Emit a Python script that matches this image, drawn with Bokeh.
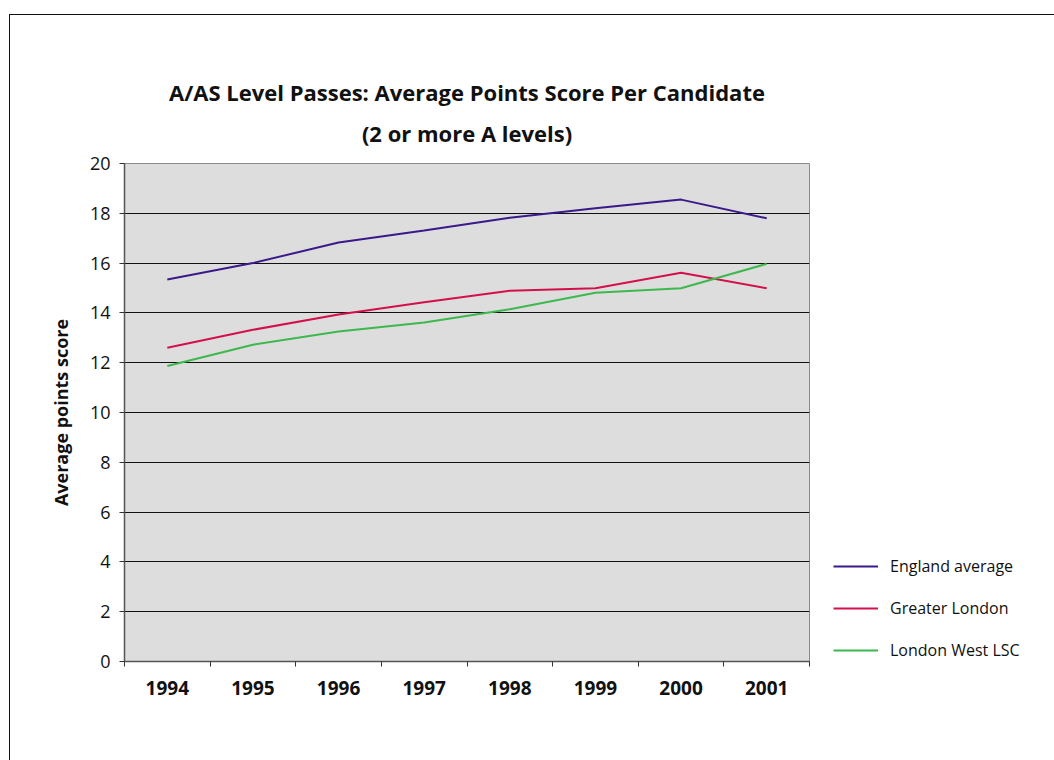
from bokeh.plotting import figure
from bokeh.layouts import row
from bokeh.models import (Range1d, FixedTicker, Title, Legend, LegendItem, ColumnDataSource)
from bokeh.embed import file_html
from bokeh.resources import INLINE
import numpy as np

# Average A/AS level points score per candidate (2 or more A levels)
years = ["1994", "1995", "1996", "1997", "1998", "1999", "2000", "2001"]
england_average = [15.34, 16.00, 16.83, 17.31, 17.82, 18.20, 18.55, 17.80]
greater_london = [12.60, 13.32, 13.94, 14.43, 14.89, 14.99, 15.61, 14.99]
london_west_lsc = [11.87, 12.72, 13.25, 13.61, 14.15, 14.81, 14.99, 15.97]
y_ticks = [0, 2, 4, 6, 8, 10, 12, 14, 16, 18, 20]

series_names = ["England average", "Greater London", "London West LSC"]
series_values = [england_average, greater_london, london_west_lsc]
series_colors = ["#3a1a8a", "#d3104c", "#3db84e"]

FONT = "Open Sans"
INK = "#111111"

# each year sits in the middle of its own slot
x_pos = np.arange(len(years)) + 0.5

p = figure(
    width=809, height=745, title=None,
    x_range=Range1d(0, len(years)), y_range=Range1d(0, 20),
    output_backend="svg", toolbar_location=None,
    min_border_left=114, min_border_right=10,
    min_border_top=148, min_border_bottom=99,
    background_fill_color="#dddddd", border_fill_color="white",
    outline_line_color="#8a8a8a", outline_line_width=1,
)

# two-line chart title (first added sits nearest the frame)
title_lines = ["A/AS Level Passes: Average Points Score Per Candidate", "(2 or more A levels)"]
for txt, gap in zip(reversed(title_lines), [31, -12]):
    t = Title(
        text=txt, align="center",
        text_font=FONT, text_font_style="bold", text_line_height=1.0,
        text_font_size="22px", text_color=INK,
    )
    try:
        t.standoff = gap
    except ValueError:
        t.standoff = 0
    p.add_layout(t, "above")

# x axis: labels in the slot centres, tick marks on the slot edges
p.xaxis.ticker = FixedTicker(ticks=list(x_pos), minor_ticks=list(range(len(years) + 1)))
p.xaxis.major_label_overrides = {float(x): y for x, y in zip(x_pos, years)}
p.xaxis.major_tick_out = 0
p.xaxis.major_tick_in = 0
p.xaxis.minor_tick_out = 5
p.xaxis.minor_tick_in = 0
p.xaxis.minor_tick_line_color = "#333333"
p.xaxis.axis_line_color = "#555555"
p.xaxis.axis_line_width = 1.5
p.xaxis.major_label_text_font = FONT
p.xaxis.major_label_text_font_style = "bold"
p.xaxis.major_label_text_font_size = "19px"
p.xaxis.major_label_text_color = INK
p.xaxis.major_label_standoff = 14

# y axis
p.yaxis.ticker = FixedTicker(ticks=y_ticks)
p.yaxis.minor_tick_line_color = None
p.yaxis.major_tick_out = 5
p.yaxis.major_tick_in = 0
p.yaxis.major_tick_line_color = "#333333"
p.yaxis.axis_line_color = "#555555"
p.yaxis.axis_line_width = 1.5
p.yaxis.major_label_text_font = FONT
p.yaxis.major_label_text_font_size = "18px"
p.yaxis.major_label_text_color = INK
p.yaxis.major_label_standoff = 9
p.yaxis.axis_label = "Average points score"
p.yaxis.axis_label_text_font = FONT
p.yaxis.axis_label_text_font_style = "bold"
p.yaxis.axis_label_text_font_size = "18px"
p.yaxis.axis_label_text_color = INK
p.yaxis.axis_label_standoff = 14

p.xgrid.grid_line_color = None
p.ygrid.ticker = FixedTicker(ticks=y_ticks[1:-1])
p.ygrid.grid_line_color = INK
p.ygrid.grid_line_width = 1

for vals, color in zip(series_values, series_colors):
    p.line(x=x_pos, y=vals, line_color=color, line_width=2)

# key panel to the right of the chart; its unit ranges keep the series lines
# out of view so only the legend samples show
key = figure(
    width=235, height=745, x_range=Range1d(0, 1), y_range=Range1d(0, 1),
    output_backend="svg", toolbar_location=None,
    x_axis_type=None, y_axis_type=None,
    min_border=0, outline_line_color=None,
    background_fill_color="white", border_fill_color="white",
)
key.grid.visible = False
items = []
for name, vals, color in zip(series_names, series_values, series_colors):
    r = key.line(x="x", y="y", source=ColumnDataSource(dict(x=x_pos, y=vals)),
                 line_color=color, line_width=2)
    items.append(LegendItem(label=name, renderers=[r]))

key.add_layout(Legend(
    items=items, location=(14, 0),
    glyph_width=45, glyph_height=20, label_height=20, spacing=20,
    label_standoff=12, padding=0, margin=0,
    border_line_color=None, background_fill_alpha=0,
    label_text_font=FONT, label_text_font_size="16px", label_text_color=INK,
))

page = row(
    p, key, margin=(14, 0, 0, 9),
    styles={"border-left": "1px solid #111", "border-top": "1px solid #111"},
)

open("out.html", "w").write(file_html(page, INLINE))
